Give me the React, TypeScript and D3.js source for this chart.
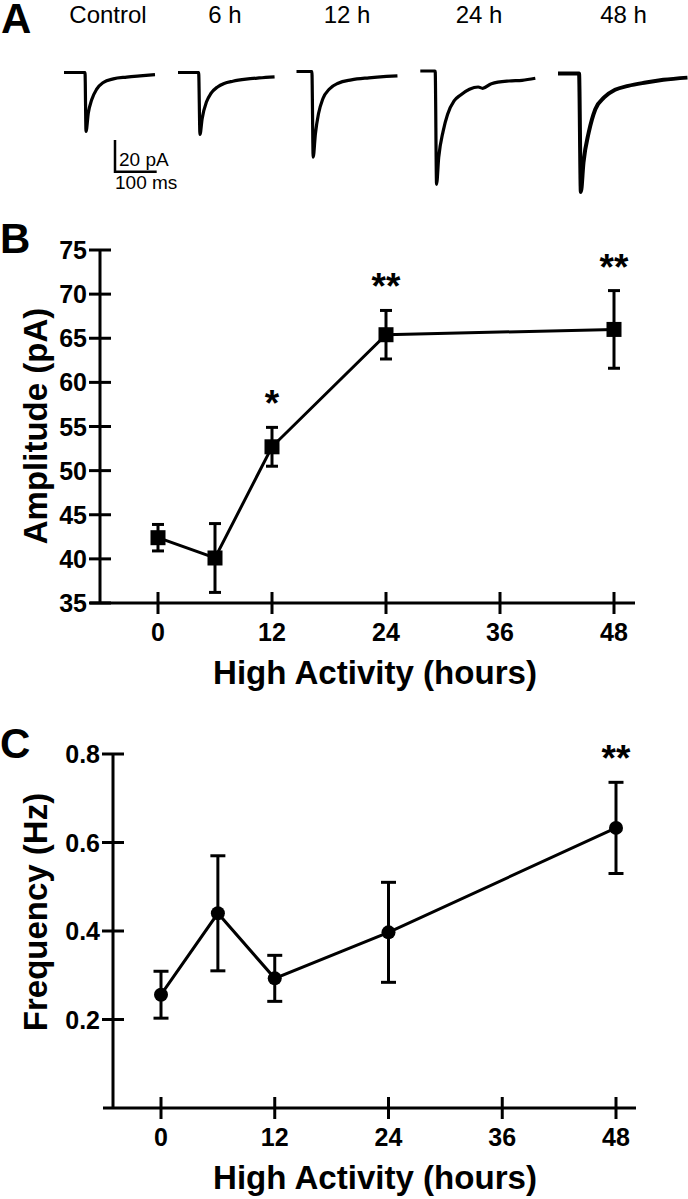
import React from 'react';
import * as d3 from 'd3';

// ---- data ----
const hours = [0, 6, 12, 24, 48];
const ampMean = [42.4, 40.1, 52.7, 65.4, 66.0];
const ampSem = [1.5, 3.9, 2.2, 2.75, 4.4];
const ampStars = ['', '', '*', '**', '**'];
const freqMean = [0.256, 0.44, 0.293, 0.397, 0.633];
const freqSem = [0.053, 0.13, 0.052, 0.113, 0.103];
const freqStars = ['', '', '', '', '**'];

const xTicks = [0, 12, 24, 36, 48];
const ampTicks = [35, 40, 45, 50, 55, 60, 65, 70, 75];
const freqTicks = [0.2, 0.4, 0.6, 0.8];

// EPSC traces: [time ms, current pA]
const traceLabels = ['Control', '6 h', '12 h', '24 h', '48 h'];
const traceControl: [number, number][] = [
  [0, 0], [50.4, 0], [52.8, -37.2], [58.3, -25.6], [66.4, -17.2], [78.4, -10.5], [94.2, -6.3],
  [118.2, -4.0], [150.4, -2.9], [182.3, -2.1], [218.2, -1.3],
];
const trace6h: [number, number][] = [
  [0, 0], [49.5, 0], [52.7, -39.1], [57.9, -29.1], [68.4, -18.5], [79.0, -13.2], [94.8, -9.1],
  [110.6, -6.9], [131.5, -5.5], [163.1, -4.2], [194.7, -3.4], [231.6, -2.7],
];
const trace12h: [number, number][] = [
  [0, 0], [36.9, 0], [40.0, -54.0], [45.3, -39.4], [52.7, -26.7], [63.2, -17.2], [79.0, -11.0],
  [99.9, -7.4], [131.5, -5.3], [173.6, -4.0], [215.8, -3.1], [242.1, -2.7],
];
const trace24h: [number, number][] = [
  [0, 0], [35.7, 0], [39.0, -71.5], [44.1, -54.7], [54.8, -37.9], [65.3, -27.4], [81.0, -18.9],
  [96.8, -15.1], [117.9, -11.5], [138.9, -10.1], [149.4, -10.9], [170.5, -8.0], [212.6, -6.3],
  [244.2, -5.9], [275.8, -4.6],
];
const trace48h: [number, number][] = [
  [0, 0], [50.5, 0], [54.8, -74.7], [61.1, -56.1], [73.7, -37.2], [89.5, -22.5], [110.6, -15.1],
  [136.8, -10.3], [168.4, -7.8], [210.5, -5.7], [252.6, -4.0], [310.5, -2.6],
];
const traces = [traceControl, trace6h, trace12h, trace24h, trace48h];

// ---- layout ----
const W = 688;
const H = 1199;
const FONT = '"Liberation Sans", Arial, Helvetica, sans-serif';
const traceLeft = [64, 178, 296.5, 420.3, 558];
const traceBase = [72.5, 72.5, 71.5, 71, 73.5];
const traceLabelX = [108, 225, 347, 479, 623.5];
const MS_PX = 0.417; // px per ms
const PA_PX = 1.585; // px per pA

const StarText = ({ x, y, s }: { x: number; y: number; s: string }) =>
  s ? (
    <text x={x} y={y} textAnchor="middle" fontSize={37} fontWeight="bold" fontFamily={FONT}>
      {s}
    </text>
  ) : null;

interface PanelProps {
  top: number;
  bottom: number;
  yAxisX: number;
  xLeft: number;
  xRight: number;
  x0: number;
  x48: number;
  domain: [number, number];
  yTicks: number[];
  fmt: (v: number) => string;
  mean: number[];
  sem: number[];
  stars: string[];
  marker: 'square' | 'circle';
  yTitle: string;
  yTitleY: number;
  capW: number;
}

const Panel = (p: PanelProps) => {
  const x = d3.scaleLinear().domain([0, 48]).range([p.x0, p.x48]);
  const y = d3.scaleLinear().domain(p.domain).range([p.bottom, p.top]);
  const line = d3
    .line<number>()
    .x((_, i) => x(hours[i]))
    .y((d) => y(d));
  const tk = 11;
  return (
    <g>
      <line x1={p.yAxisX} x2={p.yAxisX} y1={y(p.domain[1])} y2={p.bottom} stroke="#000" strokeWidth={3} />
      <line x1={p.xLeft} x2={p.xRight} y1={p.bottom} y2={p.bottom} stroke="#000" strokeWidth={3} />
      {p.yTicks.map((t) => (
        <g key={t}>
          <line x1={p.yAxisX - tk} x2={p.yAxisX + tk} y1={y(t)} y2={y(t)} stroke="#000" strokeWidth={3} />
          <text
            x={p.yAxisX - 13}
            y={y(t)}
            dy="0.36em"
            textAnchor="end"
            fontSize={25}
            fontWeight="bold"
            fontFamily={FONT}
          >
            {p.fmt(t)}
          </text>
        </g>
      ))}
      {xTicks.map((t) => (
        <g key={t}>
          <line x1={x(t)} x2={x(t)} y1={p.bottom - tk} y2={p.bottom + tk} stroke="#000" strokeWidth={3} />
          <text x={x(t)} y={p.bottom + 38} textAnchor="middle" fontSize={25} fontWeight="bold" fontFamily={FONT}>
            {t}
          </text>
        </g>
      ))}
      <text
        x={375}
        y={p.bottom + 81}
        textAnchor="middle"
        fontSize={33}
        fontWeight="bold"
        fontFamily={FONT}
        textLength={324}
        lengthAdjust="spacingAndGlyphs"
      >
        High Activity (hours)
      </text>
      <text
        transform={`translate(35,${p.yTitleY}) rotate(-90)`}
        textAnchor="middle"
        dy="0.36em"
        fontSize={33}
        fontWeight="bold"
        fontFamily={FONT}
      >
        {p.yTitle}
      </text>
      <path d={line(p.mean) || ''} fill="none" stroke="#000" strokeWidth={3} />
      {p.mean.map((m, i) => {
        const cx = x(hours[i]);
        const yt = y(m + p.sem[i]);
        const yb = y(m - p.sem[i]);
        return (
          <g key={i}>
            <line x1={cx} x2={cx} y1={yt} y2={yb} stroke="#000" strokeWidth={3} />
            <line x1={cx - p.capW / 2} x2={cx + p.capW / 2} y1={yt} y2={yt} stroke="#000" strokeWidth={3} />
            <line x1={cx - p.capW / 2} x2={cx + p.capW / 2} y1={yb} y2={yb} stroke="#000" strokeWidth={3} />
            {p.marker === 'square' ? (
              <rect x={cx - 7.5} y={y(m) - 7.5} width={15} height={15} fill="#000" />
            ) : (
              <circle cx={cx} cy={y(m)} r={7} fill="#000" />
            )}
            <StarText x={cx} y={yt - 11} s={p.stars[i]} />
          </g>
        );
      })}
    </g>
  );
};

export default function App() {
  const trLine = (i: number) => {
    const xs = d3.scaleLinear().domain([0, 100]).range([traceLeft[i], traceLeft[i] + 100 * MS_PX]);
    const ys = d3.scaleLinear().domain([0, -20]).range([traceBase[i], traceBase[i] + 20 * PA_PX]);
    return (
      d3
        .line<[number, number]>()
        .x((d) => xs(d[0]))
        .y((d) => ys(d[1]))
        .curve(d3.curveMonotoneX)(traces[i]) || ''
    );
  };
  const barX = d3.scaleLinear().domain([0, 100]).range([115, 115 + 100 * MS_PX]);
  const barY = d3.scaleLinear().domain([0, 20]).range([171.7, 171.7 - 20 * PA_PX]);

  return (
    <svg
      width={W}
      height={H}
      viewBox={`0 0 ${W} ${H}`}
      style={{ position: 'absolute', left: 0, top: 0, background: '#fff' }}
    >
      <rect width={W} height={H} fill="#fff" />
      <text x={1} y={33} fontSize={42} fontWeight="bold" fontFamily={FONT}>
        A
      </text>
      <text x={0} y={253} fontSize={42} fontWeight="bold" fontFamily={FONT}>
        B
      </text>
      <text x={0} y={758} fontSize={42} fontWeight="bold" fontFamily={FONT}>
        C
      </text>

      {/* Panel A: example traces */}
      {traceLabels.map((l, i) => (
        <text key={l} x={traceLabelX[i]} y={23} textAnchor="middle" fontSize={24} fontFamily={FONT}>
          {l}
        </text>
      ))}
      {traces.map((_, i) => (
        <path
          key={i}
          d={trLine(i)}
          fill="none"
          stroke="#000"
          strokeWidth={i === 4 ? 4 : 3.2}
          strokeLinejoin="round"
        />
      ))}
      <path
        d={`M${barX(0)},${barY(20)}V${barY(0)}H${barX(100)}`}
        fill="none"
        stroke="#000"
        strokeWidth={2.5}
      />
      <text x={119} y={166} fontSize={19} fontFamily={FONT}>
        20 pA
      </text>
      <text x={115} y={189} fontSize={19} fontFamily={FONT}>
        100 ms
      </text>

      <Panel
        top={250}
        bottom={603}
        yAxisX={100}
        xLeft={90}
        xRight={635}
        x0={158}
        x48={614}
        domain={[35, 75]}
        yTicks={ampTicks}
        fmt={(v) => String(v)}
        mean={ampMean}
        sem={ampSem}
        stars={ampStars}
        marker="square"
        yTitle="Amplitude (pA)"
        yTitleY={426}
        capW={12}
      />
      <Panel
        top={754}
        bottom={1108}
        yAxisX={113}
        xLeft={103}
        xRight={636}
        x0={161}
        x48={616}
        domain={[0, 0.8]}
        yTicks={freqTicks}
        fmt={(v) => v.toFixed(1)}
        mean={freqMean}
        sem={freqSem}
        stars={freqStars}
        marker="circle"
        yTitle="Frequency (Hz)"
        yTitleY={912}
        capW={15}
      />
    </svg>
  );
}
